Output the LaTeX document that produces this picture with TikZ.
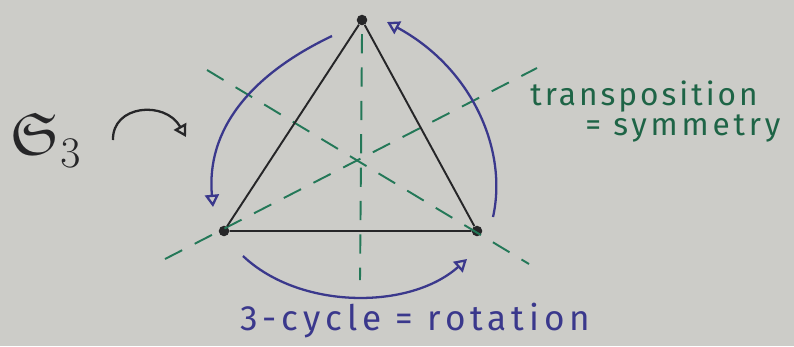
\documentclass[tikz,border=0pt]{standalone}
\usepackage{amssymb}
\usepackage{fontspec}
\setmainfont{Fira Sans}
\usetikzlibrary{arrows.meta,positioning}
\definecolor{paper}{RGB}{204,204,200}
\definecolor{ink}{RGB}{38,38,40}
\definecolor{pen}{RGB}{58,56,140}
\definecolor{axisgreen}{RGB}{36,120,88}
\definecolor{textgreen}{RGB}{30,100,70}
\tikzset{
  vert/.style={circle,fill=ink,inner sep=0pt,minimum size=6pt},
  side/.style={ink,line width=1.1pt},
  mirror/.style={axisgreen,line width=1.1pt,dash pattern=on 11pt off 8pt},
  turn/.style={pen,line width=1.3pt,-{Triangle[open,length=7pt,width=8pt,line width=1.3pt]}},
  hand/.style={font=\fontsize{18}{21}\selectfont,inner sep=0pt}
}
\begin{document}
\begin{tikzpicture}[x=0.02cm,y=-0.02cm]
\fill[paper] (0,0) rectangle (794,346);
\useasboundingbox (0,0) rectangle (794,346);

% vertices of the triangle
\node[vert] (top) at (362,20) {};
\node[vert] (left) at (224,231) {};
\node[vert] (right) at (477,231) {};

% ends of the mirror axes
\coordinate (vtop) at (362,34);
\coordinate (vbot) at (360,280);
\coordinate (dtop) at (207,70);
\coordinate (dbot) at (529,264);
\coordinate (etop) at (537,68);
\coordinate (ebot) at (165,259);

\draw[mirror] (vtop) -- (vbot);
\draw[mirror] (dtop) -- (dbot);
\draw[mirror] (ebot) -- (etop);

\draw[side] (top) -- (left) -- (right) -- (top);

% rotations
\coordinate (la) at (332,36);
\coordinate (lb) at (213,207);
\coordinate (ra) at (493,217);
\coordinate (rb) at (387,22);
\coordinate (ba) at (243,256);
\coordinate (bb) at (467,259);
\draw[turn] (la) .. controls (250,75) and (206,130) .. (lb);
\draw[turn] (ra) .. controls (508,150) and (472,68) .. (rb);
\draw[turn] (ba) .. controls (300,310) and (410,310) .. (bb);

% labels
\node[ink,font=\fontsize{34}{38}\selectfont,inner sep=0pt] (grp) at (46,140) {$\mathfrak{S}_3$};
\coordinate (ga) at (113,140);
\coordinate (gb) at (186,137);
\draw[ink,line width=1.3pt,-{Triangle[open,length=7pt,width=8pt,line width=1.3pt]}]
  (ga) .. controls (112,105) and (165,100) .. (gb);

\node[hand,textgreen,anchor=base west] (transp) at (530,105) {\addfontfeatures{LetterSpace=9.5}transposition};
\node[hand,textgreen,anchor=base west] (symm) at (585,135) {\addfontfeatures{LetterSpace=12}= symmetry};
\node[hand,pen,anchor=base west,font=\fontsize{20}{24}\selectfont] (cyc) at (240,330) {\addfontfeatures{LetterSpace=14}3-cycle = rotation};

\end{tikzpicture}
\end{document}
